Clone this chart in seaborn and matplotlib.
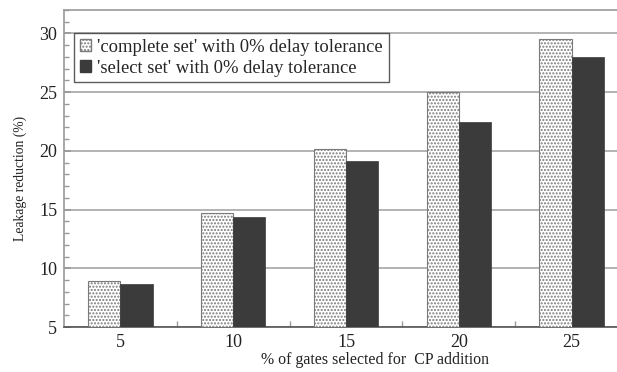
import numpy as np
import pandas as pd
import seaborn as sns
import matplotlib.pyplot as plt
from matplotlib.ticker import MultipleLocator, FixedLocator
from matplotlib.patches import Patch

# data
gates = ['5', '10', '15', '20', '25']
complete_set = [8.9, 14.7, 20.2, 25.0, 29.5]
select_set = [8.7, 14.4, 19.1, 22.5, 28.0]
series = ["'complete set' with 0% delay tolerance", "'select set' with 0% delay tolerance"]

df = pd.DataFrame({
    'gates': gates * 2,
    'value': complete_set + select_set,
    'serie': [series[0]] * len(gates) + [series[1]] * len(gates),
})

sns.set_theme(style='white')
plt.rcParams['font.family'] = ['Liberation Serif', 'DejaVu Serif']
plt.rcParams['hatch.linewidth'] = 1.0

fig = plt.figure(figsize=(6.17, 3.72), dpi=100)
ax = fig.add_axes([64 / 617, 45 / 372, 564 / 617, 317 / 372])

sns.barplot(data=df, x='gates', y='value', hue='serie', order=gates, hue_order=series,
            palette=['white', '#3b3b3b'], width=0.57, saturation=1, ax=ax, legend=False,
            zorder=3)

n = len(gates)
for i, p in enumerate(ax.patches):
    if i < n:
        p.set_hatch('.....')
        p.set_edgecolor('#7a7a7a')
        p.set_linewidth(0.8)
    else:
        p.set_edgecolor('#3b3b3b')
        p.set_linewidth(0.5)

ax.set_xlim(-0.5, 4.5)
ax.set_ylim(5, 32)
ax.yaxis.set_major_locator(FixedLocator([5, 10, 15, 20, 25, 30]))
ax.yaxis.set_minor_locator(MultipleLocator(1))
ax.xaxis.set_minor_locator(FixedLocator([0.5, 1.5, 2.5, 3.5]))
ax.grid(axis='y', color='#a5a5a5', linewidth=1.2, zorder=0)
ax.set_axisbelow(True)

ax.tick_params(axis='y', which='both', direction='in', left=True, colors='#222222', labelsize=13, pad=5)
ax.tick_params(axis='y', which='major', length=5, color='#999999')
ax.tick_params(axis='y', which='minor', length=3.5, color='#999999')
ax.tick_params(axis='x', which='major', length=0, labelsize=13, colors='#222222', pad=5)
ax.tick_params(axis='x', which='minor', direction='in', bottom=True, length=4, color='#999999')

for s in ['top', 'left', 'right']:
    ax.spines[s].set_color('#9a9a9a')
    ax.spines[s].set_linewidth(1.2)
ax.spines['bottom'].set_color('#555555')
ax.spines['bottom'].set_linewidth(1.2)

ax.set_xlabel('% of gates selected for  CP addition', fontsize=11.4, color='#222222')
ax.set_ylabel('Leakage reduction (%)', fontsize=9.8, color='#222222')
# labels sit a little off centre in the reference
ax.xaxis.set_label_coords(0.551, -0.079)
ax.yaxis.set_label_coords(-0.066, 0.47)

handles = [Patch(facecolor='white', edgecolor='#7a7a7a', hatch='.....', label=series[0]),
           Patch(facecolor='#3b3b3b', edgecolor='#3b3b3b', label=series[1])]
leg = ax.legend(handles=handles, loc='upper left', bbox_to_anchor=(0.018, 0.927),
                fontsize=13.4, frameon=True, fancybox=False, edgecolor='#333333',
                handlelength=0.6, handleheight=0.6, handletextpad=0.35,
                borderpad=0.3, labelspacing=0.22, borderaxespad=0)
leg.get_frame().set_linewidth(1.0)

fig.savefig('out.png', dpi=100)
